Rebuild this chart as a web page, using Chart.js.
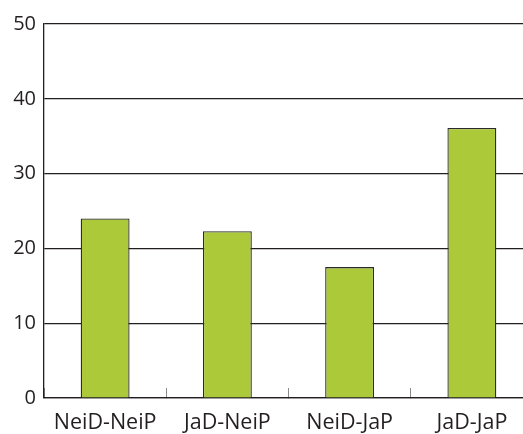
<!DOCTYPE html>
<html>
<head>
<meta charset="utf-8">
<style>
  html, body { margin: 0; padding: 0; background: #ffffff; overflow: hidden; }
  #wrap { position: relative; width: 536px; height: 434px; }
</style>
<script src="https://cdn.jsdelivr.net/npm/chart.js@4/dist/chart.umd.min.js"></script>
</head>
<body>
<div id="wrap"><canvas id="chart" width="536" height="434"></canvas></div>
<script>
// Groups along the x axis and their values
const categories = ['NeiD-NeiP', 'JaD-NeiP', 'NeiD-JaP', 'JaD-JaP'];
const values = [24.0, 22.3, 17.5, 36.1];
const yTicks = [0, 10, 20, 30, 40, 50];

const ink = '#231f20';
const barGreen = '#acc93a';

new Chart(document.getElementById('chart'), {
  type: 'bar',
  data: {
    labels: categories,
    datasets: [{
      data: values,
      backgroundColor: barGreen,
      borderColor: '#2b2b2b',
      borderWidth: 1.3,
      barPercentage: 0.4,
      categoryPercentage: 1.0
    }]
  },
  options: {
    responsive: false,
    animation: false,
    layout: { padding: { top: 24, right: 3, left: 0, bottom: 0 } },
    plugins: { legend: { display: false }, tooltip: { enabled: false } },
    scales: {
      x: {
        offset: true,
        grid: {
          offset: true,
          drawOnChartArea: false,
          drawTicks: true,
          tickLength: -10,
          color: '#8a8a8a',
          lineWidth: 1
        },
        border: { display: true, color: ink, width: 1.3 },
        ticks: {
          color: ink,
          font: { family: 'Open Sans', size: 21.5 },
          padding: 22,
          maxRotation: 0
        },
        afterFit: (s) => { s.height = 36; }
      },
      y: {
        min: 0,
        max: 50,
        afterBuildTicks: (s) => { s.ticks = yTicks.map(v => ({ value: v })); },
        grid: { color: ink, lineWidth: 1.2, drawTicks: false },
        border: { display: true, color: ink, width: 1.3 },
        ticks: {
          color: ink,
          font: { family: 'Open Sans', size: 20 },
          padding: 8
        },
        afterFit: (s) => { s.width = 44; }
      }
    }
  }
});
</script>
</body>
</html>
